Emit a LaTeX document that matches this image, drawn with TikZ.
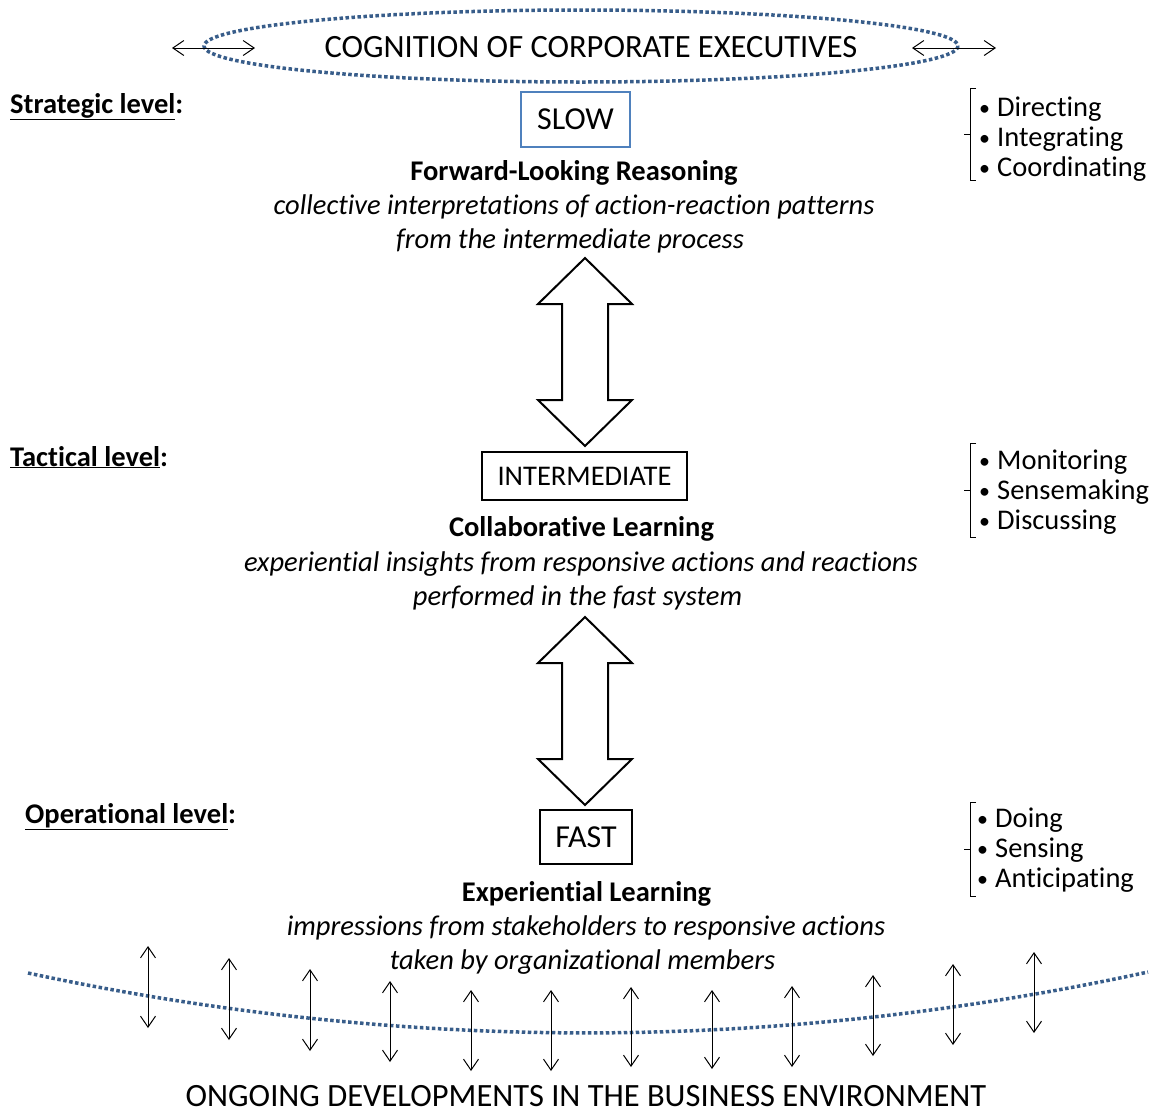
\documentclass[tikz,border=0pt]{standalone}
\usepackage{fontspec}
\setmainfont{Carlito}[Ligatures=NoCommon]
\usetikzlibrary{arrows.meta}

\definecolor{dotblue}{RGB}{56,93,138}
\definecolor{boxblue}{RGB}{79,129,189}

% small list bullet followed by the item text
\newcommand{\listdot}{\makebox[18pt][l]{\fontsize{22}{26}\selectfont\raisebox{1pt}{•}}}

\begin{document}
\begin{tikzpicture}[x=1pt,y=-1pt,
  big/.style={font=\fontsize{32.5}{38}\selectfont, inner sep=0pt, anchor=base},
  body/.style={font=\fontsize{28.5}{34}\selectfont, inner sep=0pt, anchor=base},
  head/.style={body, font=\fontsize{28.5}{34}\selectfont\bfseries},
  note/.style={body, font=\fontsize{28.5}{34}\selectfont\itshape},
  level/.style={body, anchor=base west, font=\fontsize{28.5}{34}\selectfont\bfseries},
  item/.style={body, anchor=base west},
  speed/.style={draw, line width=1.3pt, inner sep=0pt, font=\fontsize{32}{38}\selectfont},
  dotline/.style={draw=dotblue, line width=3.5pt, dash pattern=on 3.5pt off 2.5pt},
  thinarrow/.style={line width=1pt, {Straight Barb[length=11pt,width=15pt]}-{Straight Barb[length=11pt,width=15pt]}},
  blockarrow/.style={draw, line width=2pt, fill=white, line join=miter},
  bracket/.style={line width=1pt}
]
\useasboundingbox (0,0) rectangle (1156,1112);

% ---- top: cognition of corporate executives ----
\draw[dotline] (581,46) ellipse [x radius=377, y radius=36];
\node[big] (title) at (591,57) {COGNITION OF CORPORATE EXECUTIVES};
\coordinate (tl1) at (172,48); \coordinate (tl2) at (255,48);
\coordinate (tr1) at (912,48); \coordinate (tr2) at (996,48);
\draw[thinarrow] (tl1) -- (tl2);
\draw[thinarrow] (tr1) -- (tr2);

% ---- strategic level ----
\node[level] (strat) at (10,113) {\underline{Strategic level}:};
\node[speed, draw=boxblue, minimum width=109pt, minimum height=55pt] (slow) at (575.5,119.5) {SLOW};
\node[head] (flr) at (574,180) {Forward-Looking Reasoning};
\node[note] (flr1) at (574,214) {collective interpretations of action-reaction patterns};
\node[note] (flr2) at (570,248) {from the intermediate process};
\draw[bracket] (976,88) -- (970,88) -- (970,180) -- (976,180) (964,134) -- (970,134);
\node[item] (s1) at (979,116) {\listdot Directing};
\node[item] (s2) at (979,146) {\listdot Integrating};
\node[item] (s3) at (979,176) {\listdot Coordinating};

% block arrow between strategic and tactical
\draw[blockarrow] (585,258) -- (632,304) -- (608,304) -- (608,400) -- (632,400) -- (585,446)
  -- (538,400) -- (562,400) -- (562,304) -- (538,304) -- cycle;

% ---- tactical level ----
\node[level] (tact) at (10,466) {\underline{Tactical level}:};
\node[speed, minimum width=205pt, minimum height=48pt, font=\fontsize{28.5}{34}\selectfont] (inter) at (584.5,476) {INTERMEDIATE};
\node[head] (cl) at (581.5,536) {Collaborative Learning};
\node[note] (cl1) at (581,571) {experiential insights from responsive actions and reactions};
\node[note] (cl2) at (577.5,605) {performed in the fast system};
\draw[bracket] (976,443) -- (970,443) -- (970,537) -- (976,537) (964,490) -- (970,490);
\node[item] (t1) at (979,469) {\listdot Monitoring};
\node[item] (t2) at (979,499) {\listdot Sensemaking};
\node[item] (t3) at (979,529) {\listdot Discussing};

% block arrow between tactical and operational
\draw[blockarrow] (585,617) -- (632,663) -- (608,663) -- (608,759) -- (632,759) -- (585,805)
  -- (538,759) -- (562,759) -- (562,663) -- (538,663) -- cycle;

% ---- operational level ----
\node[level] (oper) at (25,823) {\underline{Operational level}:};
\node[speed, minimum width=92pt, minimum height=54pt] (fast) at (586,837) {FAST};
\node[head] (el) at (586.5,901) {Experiential Learning};
\node[note] (el1) at (586,935) {impressions from stakeholders to responsive actions};
\node[note] (el2) at (582.5,969) {taken by organizational members};
\draw[bracket] (976,802) -- (970,802) -- (970,896) -- (976,896) (964,849) -- (970,849);
\node[item] (o1) at (977,827) {\listdot Doing};
\node[item] (o2) at (977,857) {\listdot Sensing};
\node[item] (o3) at (977,887) {\listdot Anticipating};

% ---- business environment ----
\draw[dotline] (28,973) .. controls (401,1053) and (775,1053) .. (1148,972);
\foreach \i/\x/\t/\b in {1/148/946/1028, 2/229/958/1040, 3/310/969/1051, 4/390/981/1062,
  5/471/990/1071, 6/551/990/1071, 7/631/987/1067, 8/712/990/1069, 9/792/986/1067,
  10/873/975/1056, 11/953/964/1045, 12/1034/952/1033} {
  \coordinate (up\i) at (\x,\t);
  \coordinate (dn\i) at (\x,\b);
  \draw[thinarrow] (up\i) -- (dn\i);
}
\node[big] (env) at (586,1106) {ONGOING DEVELOPMENTS IN THE BUSINESS ENVIRONMENT};
\end{tikzpicture}
\end{document}
